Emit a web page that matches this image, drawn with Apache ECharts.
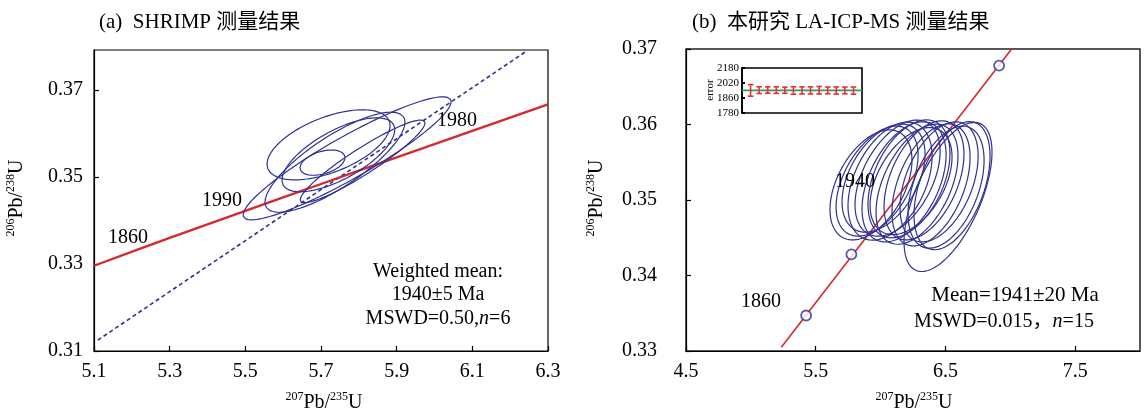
<!DOCTYPE html>
<html><head><meta charset="utf-8">
<script src="https://cdn.jsdelivr.net/npm/echarts@6/dist/echarts.min.js"></script>
<style>html,body{margin:0;padding:0;background:#fff}#c{width:1146px;height:415px}</style>
</head><body><div id="c"></div>
<script>
const FONT = '"Liberation Serif","Noto Sans CJK SC",serif';
const BLUE = '#2e3192', RED = '#d7282f';

// ---- Panel (a): SHRIMP ----
const aConcordiaX = [5.1, 5.3, 5.5, 5.7, 5.9, 6.1, 6.3];
const aConcordiaY = [0.3296, 0.3360, 0.3422, 0.3484, 0.3545, 0.3606, 0.3667];
const aDiscordiaX = [5.11, 6.239];
const aDiscordiaY = [0.3125, 0.3787];
const aEllCx  = [5.720, 5.769, 5.737, 5.746, 5.704, 5.810];
const aEllCy  = [0.3574, 0.3543, 0.3534, 0.3551, 0.3533, 0.3536];
const aEllSx  = [0.1626, 0.2749, 0.185, 0.149, 0.0595, 0.165];
const aEllSy  = [0.00805, 0.01414, 0.0115, 0.0085, 0.0029, 0.0095];
const aEllRho = [0.55, 0.92, 0.80, 0.68, 0.4, 0.93];

// ---- Panel (b): LA-ICP-MS ----
const bLineX = [5.235, 7.01];
const bLineY = [0.3305, 0.37];
const bPointX = [5.426, 5.775, 6.914];
const bPointY = [0.3347, 0.3428, 0.3678];
const bEllCx  = [5.926, 5.973, 6.023, 6.073, 6.131, 6.181, 6.219, 6.281, 6.335, 6.389, 6.451, 6.505, 6.551, 6.520, 6.235];
const bEllCy  = [0.3520, 0.3525, 0.3529, 0.3525, 0.3529, 0.3524, 0.3528, 0.3521, 0.3526, 0.3520, 0.3524, 0.3517, 0.3519, 0.3504, 0.3525];
const bEllSx  = [0.316, 0.316, 0.320, 0.324, 0.328, 0.324, 0.316, 0.316, 0.308, 0.301, 0.301, 0.293, 0.293, 0.339, 0.316];
const bEllSy  = [0.00729, 0.00729, 0.00716, 0.00782, 0.00769, 0.00796, 0.00782, 0.00796, 0.00789, 0.00809, 0.00796, 0.00809, 0.00849, 0.00988, 0.00709];
const bEllRho = [0.45, 0.47, 0.44, 0.42, 0.46, 0.45, 0.43, 0.47, 0.44, 0.45, 0.43, 0.44, 0.46, 0.6, 0.45];

// ---- Inset ----
const insetIndex = [1, 2, 3, 4, 5, 6, 7, 8, 9, 10, 11, 12, 13];
const insetAge = [1941, 1944, 1945, 1944, 1943, 1940, 1941, 1941, 1943, 1941, 1940, 1941, 1939];
const insetErr = [62, 36, 34, 35, 33, 40, 38, 38, 40, 36, 38, 36, 38];
const insetMean = 1941;
const insetTickValues = [1700, 1860, 2020, 2180];
const insetTickLabels = ['1780', '1860', '2020', '2180'];

function ellipse(cx, cy, sx, sy, r) {
  const pts = [], q = Math.sqrt(1 - r * r);
  for (let i = 0; i <= 120; i++) {
    const t = i / 120 * 2 * Math.PI;
    pts.push([cx + sx * Math.cos(t), cy + sy * (r * Math.cos(t) + q * Math.sin(t))]);
  }
  return pts;
}
const zip = (a, b) => a.map((v, i) => [v, b[i]]);

const chart = echarts.init(document.getElementById('c'), null, {renderer: 'canvas'});

const labelStyle = {color: '#000', fontFamily: FONT, fontSize: 20};
const lineAxis = {lineStyle: {color: '#000', width: 1.2}};
const tick = {inside: true, length: 5, lineStyle: {color: '#000', width: 1.2}};

const series = [];
series.push({type: 'line', xAxisIndex: 0, yAxisIndex: 0, data: zip(aConcordiaX, aConcordiaY), smooth: 0.3,
  showSymbol: false, lineStyle: {color: RED, width: 2.3}, z: 3, silent: true});
series.push({type: 'line', xAxisIndex: 0, yAxisIndex: 0, data: zip(aDiscordiaX, aDiscordiaY),
  showSymbol: false, lineStyle: {color: BLUE, width: 1.6, type: [4, 3]}, z: 2, silent: true});
aEllCx.forEach((c, i) => series.push({type: 'line', xAxisIndex: 0, yAxisIndex: 0,
  data: ellipse(c, aEllCy[i], aEllSx[i], aEllSy[i], aEllRho[i]), showSymbol: false,
  lineStyle: {color: BLUE, width: 1.2}, z: 4, silent: true}));

series.push({type: 'line', xAxisIndex: 1, yAxisIndex: 1, data: zip(bLineX, bLineY),
  showSymbol: false, lineStyle: {color: RED, width: 1.6}, z: 3, silent: true});
bEllCx.forEach((c, i) => series.push({type: 'line', xAxisIndex: 1, yAxisIndex: 1,
  data: ellipse(c, bEllCy[i], bEllSx[i], bEllSy[i], bEllRho[i]), showSymbol: false,
  lineStyle: {color: BLUE, width: 1.2}, z: 4, silent: true}));
series.push({type: 'scatter', xAxisIndex: 1, yAxisIndex: 1, data: zip(bPointX, bPointY),
  symbol: 'circle', symbolSize: 10, itemStyle: {color: '#fff', borderColor: BLUE, borderWidth: 1.8}, z: 6, silent: true});

series.push({type: 'line', xAxisIndex: 2, yAxisIndex: 2, data: [[0, insetMean], [14, insetMean]],
  showSymbol: false, lineStyle: {color: '#2a9d5a', width: 1.6}, z: 3, silent: true});
series.push({type: 'custom', xAxisIndex: 2, yAxisIndex: 2, z: 4, silent: true,
  data: insetIndex.map((x, i) => [x, insetAge[i] - insetErr[i], insetAge[i] + insetErr[i]]),
  renderItem: function (params, api) {
    const x = api.value(0);
    const p1 = api.coord([x, api.value(2)]), p2 = api.coord([x, api.value(1)]);
    const w = 2.8, st = {stroke: '#ee2a3a', lineWidth: 1.6};
    return {type: 'group', children: [
      {type: 'line', shape: {x1: p1[0], y1: p1[1], x2: p2[0], y2: p2[1]}, style: st},
      {type: 'line', shape: {x1: p1[0] - w, y1: p1[1], x2: p1[0] + w, y2: p1[1]}, style: st},
      {type: 'line', shape: {x1: p2[0] - w, y1: p2[1], x2: p2[0] + w, y2: p2[1]}, style: st}
    ]};
  }});

const txt = (x, y, text, extra) => Object.assign({type: 'text', x: x, y: y, z: 100,
  style: Object.assign({text: text, fontFamily: FONT, fontSize: 20, fill: '#000', align: 'center', verticalAlign: 'middle'}, extra || {})});
const supRich = {m: {fontSize: 20, fontFamily: FONT, lineHeight: 24}, s: {fontSize: 12, fontFamily: FONT, lineHeight: 24, verticalAlign: 'top'}};
const axTitle = (x, y, a, b, rot) => {
  const t = txt(x, y, '{s|' + a + '}{m|Pb/}{s|' + b + '}{m|U}', {rich: supRich});
  if (rot) t.rotation = Math.PI / 2;
  return t;
};
const italRich = {a: {fontSize: 20, fontFamily: FONT}, i: {fontSize: 20, fontFamily: FONT, fontStyle: 'italic'}};
const errorLabel = txt(710, 90, 'error', {fontSize: 11});
errorLabel.rotation = Math.PI / 2;

const option = {
  animation: false,
  backgroundColor: '#fff',
  grid: [
    {left: 94, top: 50, width: 454, height: 301, show: true, borderColor: '#000', borderWidth: 1.2},
    {left: 686, top: 49, width: 454, height: 302, show: true, borderColor: '#222', borderWidth: 1.5},
    {left: 742, top: 68, width: 120, height: 45, show: true, borderColor: '#000', borderWidth: 1.6}
  ],
  xAxis: [
    {type: 'value', gridIndex: 0, min: 5.1, max: 6.3, interval: 0.2, axisLine: lineAxis, axisTick: tick, splitLine: {show: false},
      axisLabel: Object.assign({margin: 11, formatter: v => v.toFixed(1)}, labelStyle)},
    {type: 'value', gridIndex: 1, min: 4.5, max: 8.0, interval: 1, axisLine: lineAxis, axisTick: tick, splitLine: {show: false},
      axisLabel: Object.assign({margin: 11, showMaxLabel: false, formatter: v => v.toFixed(1)}, labelStyle)},
    {type: 'value', gridIndex: 2, min: 0, max: 14, show: false, splitLine: {show: false}}
  ],
  yAxis: [
    {type: 'value', gridIndex: 0, min: 0.31, max: 0.3792, interval: 0.02, axisLine: lineAxis, axisTick: tick, splitLine: {show: false},
      axisLabel: Object.assign({margin: 11, showMaxLabel: false, formatter: v => v.toFixed(2)}, labelStyle)},
    {type: 'value', gridIndex: 1, min: 0.33, max: 0.37, interval: 0.01, axisLine: lineAxis, axisTick: tick, splitLine: {show: false},
      axisLabel: Object.assign({margin: 29, formatter: v => v.toFixed(2)}, labelStyle)},
    {type: 'value', gridIndex: 2, min: 1700, max: 2180, interval: 160, splitLine: {show: false},
      axisLine: {lineStyle: {color: '#000', width: 1.6}}, axisTick: {inside: true, length: 3, lineStyle: {color: '#000', width: 2}},
      axisLabel: {margin: 3, color: '#000', fontFamily: FONT, fontSize: 11,
        formatter: v => { const k = insetTickValues.indexOf(Math.round(v)); return k >= 0 ? insetTickLabels[k] : ''; }}}
  ],
  graphic: [
    txt(99, 22, '(a)\u2002SHRIMP 测量结果', {align: 'left', fontSize: 21}),
    txt(692, 22, '(b)\u2002本研究 LA-ICP-MS 测量结果', {align: 'left', fontSize: 21}),
    txt(128, 238, '1860'),
    txt(222, 201, '1990'),
    txt(457, 121, '1980'),
    txt(438, 272, 'Weighted mean:'),
    txt(438, 295, '1940±5 Ma'),
    txt(438, 319, '{a|MSWD=0.50,}{i|n}{a|=6}', {rich: italRich}),
    txt(761, 302, '1860'),
    txt(855, 182, '1940'),
    txt(1015, 295, 'Mean=1941±20 Ma', {fontSize: 21}),
    txt(1004, 322, '{a|MSWD=0.015，}{i|n}{a|=15}', {rich: italRich}),
    errorLabel,
    axTitle(17, 198, '206', '238', true),
    axTitle(597, 198, '206', '238', true),
    axTitle(324, 403, '207', '235', false),
    axTitle(914, 403, '207', '235', false)
  ],
  series: series
};
chart.setOption(option);
</script></body></html>
